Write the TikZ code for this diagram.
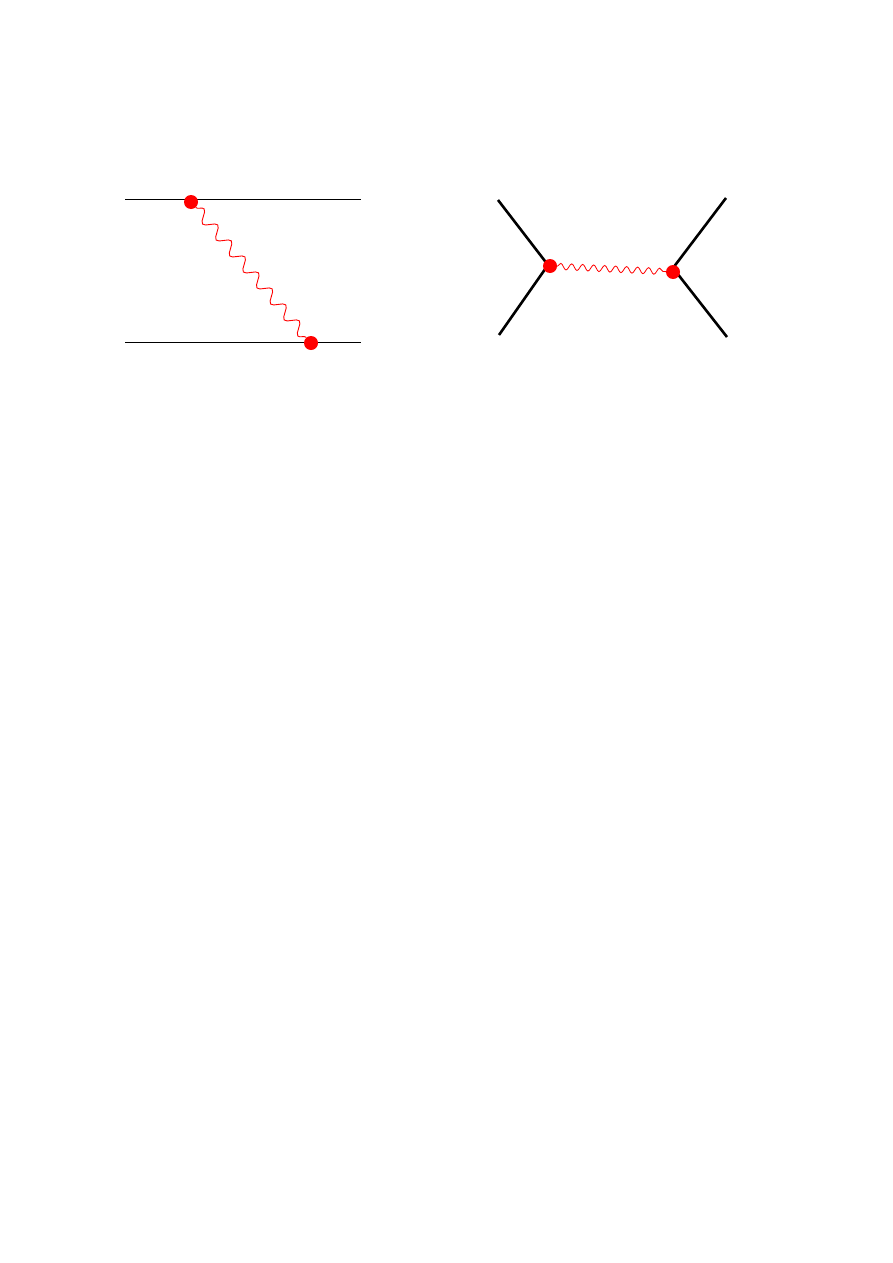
\documentclass[tikz,border=0pt]{standalone}
\usetikzlibrary{decorations.pathmorphing}
\begin{document}
\begin{tikzpicture}[x=1pt,y=-1pt,
  vtx/.style={circle,fill=red,inner sep=0pt,minimum size=14pt},
  thinline/.style={line width=1pt,black},
  thickline/.style={line width=2.6pt,black},
  photonA/.style={red,line width=0.9pt,decorate,decoration={snake,segment length=21pt,amplitude=5.5pt}},
  photonB/.style={red,line width=0.8pt,decorate,decoration={snake,segment length=11pt,amplitude=3.2pt}}]
\useasboundingbox (0,0) rectangle (893,1263);
% left diagram
\coordinate (tl) at (125,199);
\coordinate (tr) at (361,199);
\coordinate (bl) at (125,342);
\coordinate (br) at (361,342);
\draw[thinline] (tl) -- (tr);
\draw[thinline] (bl) -- (br);
\node[vtx] (v1) at (191,202) {};
\node[vtx] (v2) at (311,343) {};
\draw[photonA] (v1) -- (v2);
% right diagram
\coordinate (a1) at (498,200);
\coordinate (a2) at (499,335);
\coordinate (b1) at (726,198);
\coordinate (b2) at (727,337);
\coordinate (m1) at (548,265);
\coordinate (m2) at (673,268);
\draw[thickline] (a1) -- (m1) -- (a2);
\draw[thickline] (b1) -- (m2) -- (b2);
\node[vtx] (w1) at (550,266) {};
\node[vtx] (w2) at (673,272) {};
\draw[photonB] (w1) -- (w2);
\end{tikzpicture}
\end{document}
